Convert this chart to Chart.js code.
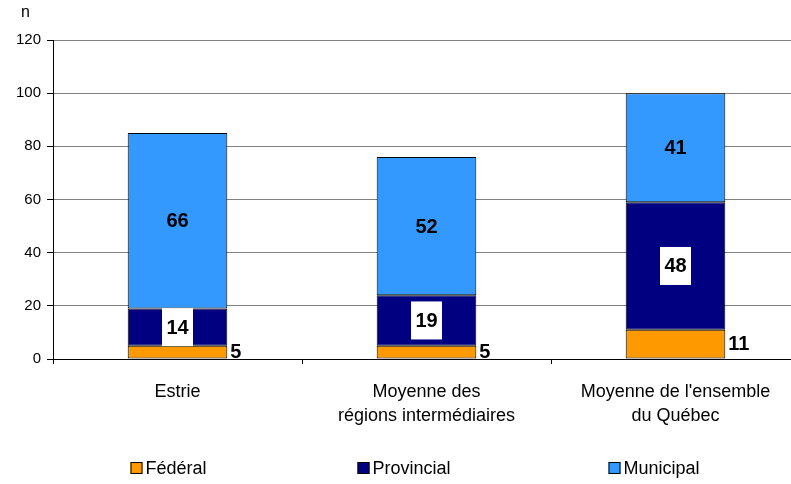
<!DOCTYPE html>
<html>
<head>
<meta charset="utf-8">
<script src="https://cdn.jsdelivr.net/npm/chart.js@4/dist/chart.umd.min.js"></script>
<style>
  html, body { margin: 0; padding: 0; background: #fff; }
  #wrap { width: 791px; height: 484px; overflow: hidden; }
  canvas { display: block; }
</style>
</head>
<body>
<div id="wrap"><canvas id="chart" width="820" height="484"></canvas></div>
<script>
// ==== Data ====
const categories = [
  ["Estrie"],
  ["Moyenne des", "régions intermédiaires"],
  ["Moyenne de l'ensemble", "du Québec"]
];
const federal = [5, 5, 11];
const provincial = [14, 19, 48];
const municipal = [66, 52, 41];
const seriesNames = ["Fédéral", "Provincial", "Municipal"];
const yTicks = [0, 20, 40, 60, 80, 100, 120];

const colors = ["#FF9900", "#000080", "#3399FF"];
const font = "Liberation Sans, Arial, sans-serif";

// ==== Labels, legend, axis title ====
const extras = {
  id: "extras",
  afterDatasetsDraw(chart) {
    const ctx = chart.ctx;
    ctx.save();
    ctx.font = "bold 20px " + font;
    ctx.textBaseline = "middle";
    chart.data.datasets.forEach((ds, d) => {
      const meta = chart.getDatasetMeta(d);
      meta.data.forEach((bar, i) => {
        const txt = String(ds.data[i]);
        const cy = (bar.y + bar.base) / 2;
        if (d === 0) {
          ctx.fillStyle = "#000";
          ctx.textAlign = "left";
          ctx.fillText(txt, bar.x + bar.width / 2 + 3, cy);
        } else if (d === 1) {
          ctx.fillStyle = "#fff";
          ctx.fillRect(bar.x - 15.5, cy - 19, 31, 38);
          ctx.fillStyle = "#000";
          ctx.textAlign = "center";
          ctx.fillText(txt, bar.x, cy + 1);
        } else {
          ctx.fillStyle = "#000";
          ctx.textAlign = "center";
          ctx.fillText(txt, bar.x, cy + 1);
        }
      });
    });

    // axis title
    ctx.font = "16px " + font;
    ctx.textAlign = "left";
    ctx.fillText("n", 21, 13);

    // legend, one item under each category
    ctx.font = "18px " + font;
    const xs = chart.scales.x;
    const shifts = [-47, -69, -67];
    seriesNames.forEach((name, i) => {
      const left = xs.getPixelForValue(i) + shifts[i];
      const ly = 468;
      ctx.fillStyle = colors[i];
      ctx.fillRect(left, ly - 6, 12, 12);
      ctx.strokeStyle = "#000";
      ctx.lineWidth = 1;
      ctx.strokeRect(left + 0.5, ly - 5.5, 11, 11);
      ctx.fillStyle = "#000";
      ctx.fillText(name, left + 15, ly + 1);
    });
    ctx.restore();
  }
};

// ==== Chart ====
const chart = new Chart(document.getElementById("chart"), {
  type: "bar",
  data: {
    labels: categories,
    datasets: [federal, provincial, municipal].map((vals, i) => ({
      label: seriesNames[i],
      data: vals,
      backgroundColor: colors[i],
      borderColor: "#000",
      borderWidth: 1,
      borderSkipped: false,
      categoryPercentage: 1,
      barPercentage: 0.4
    }))
  },
  options: {
    responsive: false,
    animation: false,
    layout: { padding: { top: 40, right: 20, left: 0, bottom: 0 } },
    plugins: {
      legend: { display: false },
      tooltip: { enabled: false }
    },
    scales: {
      x: {
        stacked: true,
        grid: { drawOnChartArea: false, color: "#000", tickLength: 5, offset: true },
        border: { color: "#000" },
        ticks: {
          color: "#000",
          font: { family: font, size: 18, lineHeight: 1.33 },
          padding: 16,
          maxRotation: 0
        },
        afterFit(scale) { scale.height = 125; }
      },
      y: {
        stacked: true,
        min: 0,
        max: 120,
        afterBuildTicks(scale) { scale.ticks = yTicks.map(v => ({ value: v })); },
        grid: { color: "#808080", tickColor: "#000", tickLength: 6 },
        border: { color: "#000" },
        ticks: {
          color: "#000",
          font: { family: font, size: 15 },
          padding: 6
        },
        afterFit(scale) { scale.width = 53; }
      }
    }
  },
  plugins: [extras]
});
</script>
</body>
</html>
